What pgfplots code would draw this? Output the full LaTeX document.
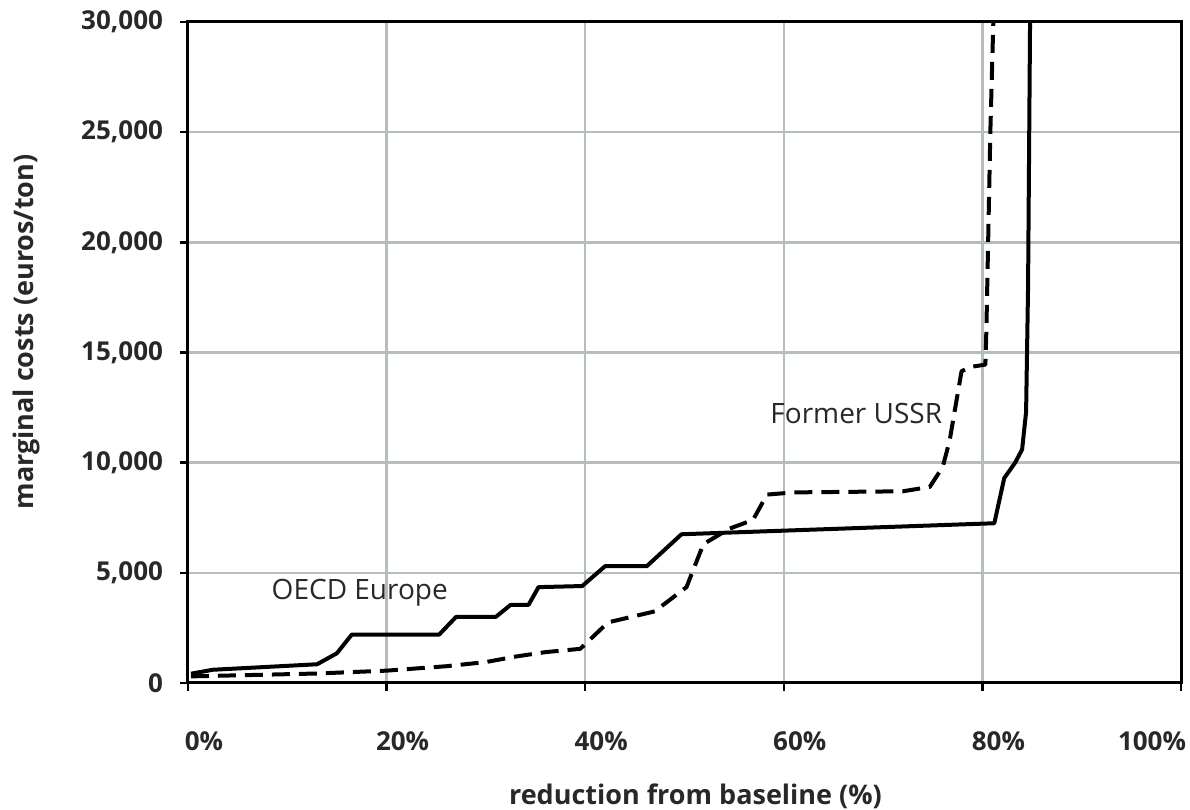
\documentclass[border=0pt]{standalone}
\usepackage{pgfplots}
\pgfplotsset{compat=1.18}
\usepackage{fontspec}
\setmainfont{Open Sans}
\definecolor{gridgray}{RGB}{180,190,192}
\definecolor{txt}{RGB}{40,40,40}

\begin{document}
\begin{tikzpicture}
\begin{axis}[
  name=ax,
  scale only axis,
  width=496.5pt, height=330.5pt,
  xmin=0, xmax=100,
  ymin=0, ymax=30000,
  scaled y ticks=false,
  scaled x ticks=false,
  xtick={0,20,40,60,80,100},
  ytick={0,5000,10000,15000,20000,25000,30000},
  xticklabels={0\%,20\%,40\%,60\%,80\%,\makebox[0pt][r]{100\%\hspace{5.5pt}}},
  yticklabels={0,{5,000},{10,000},{15,000},{20,000},{25,000},{30,000}},
  tick label style={font=\fontsize{13}{15}\selectfont\bfseries, text=txt},
  xticklabel style={xshift=8pt, yshift=-17pt},
  yticklabel style={xshift=-5pt},
  xlabel={reduction from baseline (\%)},
  ylabel={marginal costs (euros/ton)},
  label style={font=\fontsize{13.5}{16}\selectfont\bfseries, text=txt},
  xlabel style={at={(axis description cs:0.511,-0.172)}, anchor=center},
  ylabel style={at={(axis description cs:-0.163,0.531)}, anchor=center},
  tick pos=left,
  tick align=outside,
  major tick length=4pt,
  tick style={black, line width=1.2pt},
  axis line style={black, line width=1.5pt},
  grid=major,
  major grid style={gridgray, line width=1.2pt},
  clip=true,
]

% OECD Europe
\addplot[black, line width=2pt, line join=round] coordinates {
  (0.3,420) (2.5,600) (13,850) (15,1350) (16.5,2200) (25.3,2200)
  (27,3000) (31,3000) (32.5,3550) (34.3,3550) (35.3,4350) (39.7,4400)
  (42,5300) (46.2,5300) (49.7,6750) (81.2,7250) (82.2,9300) (83.3,10000)
  (84,10600) (84.4,12300) (84.6,18000) (84.8,30000)
};

% Former USSR
\addplot[black, line width=2pt, dash pattern=on 9pt off 4.5pt, line join=round] coordinates {
  (0.3,300) (13,430) (20,560) (26,760) (30,950) (33,1200) (36,1400)
  (39.5,1550) (42.3,2750) (47,3250) (50.2,4350) (51.9,6300) (54.5,7000)
  (56.9,7400) (58.3,8550) (61,8650) (72,8700) (74.7,8900) (76,9800)
  (76.7,11000) (77.9,14150) (78.9,14350) (80.3,14450) (80.4,16000)
  (80.8,25000) (81.1,30000)
};

\node[font=\fontsize{14}{16}\selectfont, text=txt] at (axis cs:17.3,4100) {OECD Europe};
\node[font=\fontsize{14}{16}\selectfont, text=txt] at (axis cs:67.3,12250) {Former USSR};
\end{axis}
\pgfresetboundingbox
\path[use as bounding box] ([xshift=-94pt,yshift=-63.5pt]ax.south west) rectangle ([xshift=4.5pt,yshift=11pt]ax.north east);
\end{tikzpicture}
\end{document}
